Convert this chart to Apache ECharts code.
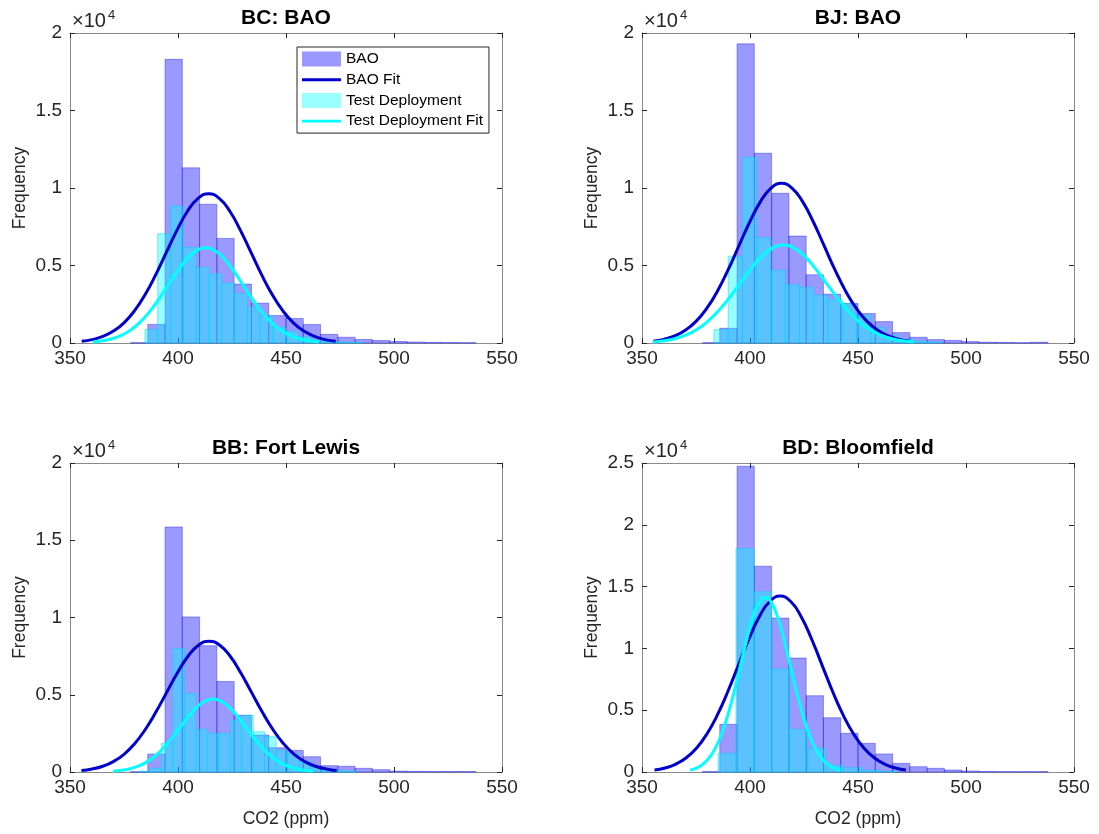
<!DOCTYPE html>
<html><head><meta charset="utf-8">
<script src="https://cdn.jsdelivr.net/npm/echarts@6/dist/echarts.min.js"></script>
<style>html,body{margin:0;padding:0;background:#fff}#c{width:1099px;height:834px}</style>
</head><body><div id="c"></div>
<script>
// ---------- text ----------
const panelTitles = ['BC: BAO', 'BJ: BAO', 'BB: Fort Lewis', 'BD: Bloomfield'];
const seriesNames = ['BAO', 'BAO Fit', 'Test Deployment', 'Test Deployment Fit'];
const xAxisLabel = 'CO2 (ppm)';
const yAxisLabel = 'Frequency';
const yScaleBase = '×10';
const yScaleExp = '4';
// ---------- axes ----------
const xMin = 350, xMax = 550, xStep = 50;
const yMaxValues = [20000, 20000, 20000, 25000];
const yStep = 5000;
const yScaleDivisor = 10000;

// ---------- BAO histograms (bins 8 ppm wide from 378 ppm) ----------
const baoBinStart = 378;
const baoBinWidth = 8;
const bcBaoCounts = [20, 1200, 18300, 11300, 8950, 6750, 3800, 2570, 1770, 1580, 1190, 560, 370, 230, 160, 100, 60, 40, 30, 20];
const bjBaoCounts = [20, 950, 19300, 12240, 9660, 6900, 4400, 3150, 2550, 1900, 1380, 670, 370, 220, 170, 90, 50, 40, 20, 50];
const bbBaoCounts = [20, 1160, 15860, 10040, 8170, 5860, 3670, 2390, 1570, 1400, 990, 410, 370, 240, 150, 60, 40, 30, 30, 30];
const bdBaoCounts = [30, 3860, 24740, 16650, 12450, 9220, 6170, 4390, 3130, 2320, 1460, 700, 430, 300, 160, 80, 40, 30, 30, 30];

// ---------- Test deployment histograms ----------
const bcTestStart = 384.7, bcTestWidth = 5.93;
const bcTestCounts = [870, 7050, 8840, 6170, 4870, 4460, 3860, 3190, 2330, 1750, 1000, 760, 400, 220, 120, 60, 30];
const bjTestStart = 383.3, bjTestWidth = 6.6;
const bjTestCounts = [860, 5600, 11990, 6810, 4700, 3770, 3580, 3080, 2800, 2550, 1790, 1000, 500, 250, 120, 60];
const bbTestStart = 381.8, bbTestWidth = 5.3;
const bbTestCounts = [50, 240, 1860, 8000, 5090, 2760, 2500, 2500, 3360, 3670, 2600, 2280, 1400, 1200, 700, 350, 200, 100, 50];
const bdTestStart = 385.2, bdTestWidth = 8.3;
const bdTestCounts = [1510, 18080, 14580, 8330, 3450, 1910, 550, 350, 150, 50];

// ---------- fitted curves ----------
const bcBaoFitX = [355.4, 360.3, 365.2, 370.1, 375.0, 379.9, 384.8, 389.7, 394.6, 399.5, 404.4, 409.3, 414.2, 419.1, 424.0, 428.9, 433.8, 438.7, 443.6, 448.5, 453.4, 458.3, 463.2, 468.1, 473.0];
const bcBaoFitY = [107, 220, 423, 767, 1303, 2083, 3127, 4409, 5841, 7269, 8498, 9333, 9630, 9333, 8498, 7269, 5841, 4409, 3127, 2083, 1303, 767, 423, 220, 107];
const bcTestFitX = [360.6, 364.95, 369.3, 373.65, 378.0, 382.35, 386.7, 391.05, 395.4, 399.75, 404.1, 408.45, 412.8, 417.15, 421.5, 425.85, 430.2, 434.55, 438.9, 443.25, 447.6, 451.95, 456.3, 460.65, 465.0];
const bcTestFitY = [68, 140, 270, 489, 831, 1328, 1994, 2811, 3724, 4634, 5419, 5951, 6140, 5951, 5419, 4634, 3724, 2811, 1994, 1328, 831, 489, 270, 140, 68];
const bjBaoFitX = [355.2, 360.15, 365.1, 370.05, 375.0, 379.95, 384.9, 389.85, 394.8, 399.75, 404.7, 409.65, 414.6, 419.55, 424.5, 429.45, 434.4, 439.35, 444.3, 449.25, 454.2, 459.15, 464.1, 469.05, 474.0];
const bjBaoFitY = [114, 235, 452, 820, 1394, 2228, 3344, 4715, 6247, 7774, 9090, 9983, 10300, 9983, 9090, 7774, 6247, 4715, 3344, 2228, 1394, 820, 452, 235, 114];
const bjTestFitX = [355.1, 360.12, 365.15, 370.17, 375.2, 380.22, 385.25, 390.27, 395.3, 400.32, 405.35, 410.37, 415.4, 420.42, 425.45, 430.47, 435.5, 440.52, 445.55, 450.57, 455.6, 460.62, 465.65, 470.67, 475.7];
const bjTestFitY = [70, 144, 277, 503, 855, 1367, 2052, 2893, 3833, 4770, 5577, 6125, 6320, 6125, 5577, 4770, 3833, 2893, 2052, 1367, 855, 503, 277, 144, 70];
const bbBaoFitX = [355.3, 360.22, 365.15, 370.07, 375.0, 379.92, 384.85, 389.77, 394.7, 399.62, 404.55, 409.47, 414.4, 419.32, 424.25, 429.17, 434.1, 439.02, 443.95, 448.87, 453.8, 458.72, 463.65, 468.57, 473.5];
const bbBaoFitY = [94, 193, 372, 674, 1146, 1832, 2750, 3878, 5137, 6393, 7475, 8209, 8470, 8209, 7475, 6393, 5137, 3878, 2750, 1832, 1146, 674, 372, 193, 94];
const bbTestFitX = [370.0, 373.85, 377.7, 381.55, 385.4, 389.25, 393.1, 396.95, 400.8, 404.65, 408.5, 412.35, 416.2, 420.05, 423.9, 427.75, 431.6, 435.45, 439.3, 443.15, 447.0, 450.85, 454.7, 458.55, 462.4];
const bbTestFitY = [52, 108, 207, 376, 639, 1021, 1533, 2161, 2863, 3563, 4165, 4575, 4720, 4575, 4165, 3563, 2863, 2161, 1533, 1021, 639, 376, 207, 108, 52];
const bdBaoFitX = [355.8, 360.65, 365.5, 370.35, 375.2, 380.05, 384.9, 389.75, 394.6, 399.45, 404.3, 409.15, 414.0, 418.85, 423.7, 428.55, 433.4, 438.25, 443.1, 447.95, 452.8, 457.65, 462.5, 467.35, 472.2];
const bdBaoFitY = [158, 324, 625, 1133, 1925, 3078, 4621, 6515, 8630, 10741, 12558, 13792, 14230, 13792, 12558, 10741, 8630, 6515, 4621, 3078, 1925, 1133, 625, 324, 158];
const bdTestFitX = [372.3, 375.2, 378.1, 381.0, 383.9, 386.8, 389.7, 392.6, 395.5, 398.4, 401.3, 404.2, 407.1, 410.0, 412.9, 415.8, 418.7, 421.6, 424.5, 427.4, 430.3, 433.2, 436.1, 439.0, 441.9];
const bdTestFitY = [157, 322, 620, 1124, 1910, 3054, 4585, 6464, 8564, 10658, 12461, 13685, 14120, 13685, 12461, 10658, 8564, 6464, 4585, 3054, 1910, 1124, 620, 322, 157];

// ---------- assemble ----------
const panels = [
  {bao: bcBaoCounts, tS: bcTestStart, tW: bcTestWidth, tC: bcTestCounts, bfx: bcBaoFitX, bfy: bcBaoFitY, tfx: bcTestFitX, tfy: bcTestFitY},
  {bao: bjBaoCounts, tS: bjTestStart, tW: bjTestWidth, tC: bjTestCounts, bfx: bjBaoFitX, bfy: bjBaoFitY, tfx: bjTestFitX, tfy: bjTestFitY},
  {bao: bbBaoCounts, tS: bbTestStart, tW: bbTestWidth, tC: bbTestCounts, bfx: bbBaoFitX, bfy: bbBaoFitY, tfx: bbTestFitX, tfy: bbTestFitY},
  {bao: bdBaoCounts, tS: bdTestStart, tW: bdTestWidth, tC: bdTestCounts, bfx: bdBaoFitX, bfy: bdBaoFitY, tfx: bdTestFitX, tfy: bdTestFitY}
];

const FONT = '"Liberation Sans", Arial, Helvetica, sans-serif';
const TXT = '#262626';
const AXC = '#8a8a8a';
const BAO_FILL = 'rgba(0,0,255,0.4)';
const BAO_EDGE = 'rgba(0,0,230,0.35)';
const TEST_FILL = 'rgba(0,255,255,0.4)';
const TEST_EDGE = 'rgba(0,210,255,0.5)';
const BAO_LINE = '#0000cc';
const TEST_LINE = '#00ffff';
const LINE_ICON = 'path://M0,0H40V3H0Z';

const gridBoxes = [
  {left: 70, top: 33, width: 432, height: 310},
  {left: 642, top: 33, width: 432, height: 310},
  {left: 70, top: 463, width: 432, height: 309},
  {left: 642, top: 463, width: 432, height: 309}
];

function bins(start, width, counts) {
  return counts.map((c, i) => [start + i * width, start + (i + 1) * width, c]);
}
function pairs(xs, ys) { return xs.map((x, i) => [x, ys[i]]); }
function histRender(fill, stroke) {
  return function (params, api) {
    const a = api.coord([api.value(0), api.value(2)]);
    const b = api.coord([api.value(1), 0]);
    return {type: 'rect', shape: {x: a[0], y: a[1], width: b[0] - a[0], height: b[1] - a[1]},
      style: {fill: fill, stroke: stroke, lineWidth: 1}};
  };
}

const grid = [], xAxis = [], yAxis = [], series = [], graphic = [];
panels.forEach((p, i) => {
  const g = gridBoxes[i];
  grid.push(Object.assign({containLabel: false}, g));
  const bottomRow = i >= 2;
  const tickStyle = {show: true, inside: true, length: 5, lineStyle: {color: TXT, width: 1}};
  xAxis.push({type: 'value', gridIndex: i, min: xMin, max: xMax, interval: xStep, position: 'bottom',
    axisLine: {show: true, onZero: false, lineStyle: {color: AXC, width: 1}},
    axisTick: tickStyle, splitLine: {show: false},
    axisLabel: {show: true, color: TXT, fontSize: 19, fontFamily: FONT, margin: 6, showMinLabel: true, showMaxLabel: true},
    name: bottomRow ? xAxisLabel : '', nameLocation: 'middle', nameGap: 38,
    nameTextStyle: {color: TXT, fontSize: 17.5, fontFamily: FONT}});
  xAxis.push({type: 'value', gridIndex: i, min: xMin, max: xMax, interval: xStep, position: 'top',
    axisLine: {show: true, onZero: false, lineStyle: {color: AXC, width: 1}},
    axisTick: tickStyle, splitLine: {show: false}, axisLabel: {show: false}});
  yAxis.push({type: 'value', gridIndex: i, min: 0, max: yMaxValues[i], interval: yStep, position: 'left',
    axisLine: {show: true, onZero: false, lineStyle: {color: AXC, width: 1}},
    axisTick: tickStyle, splitLine: {show: false},
    axisLabel: {show: true, color: TXT, fontSize: 19, fontFamily: FONT, margin: 8,
      formatter: v => String(v / yScaleDivisor)},
    name: yAxisLabel, nameLocation: 'middle', nameGap: 41,
    nameTextStyle: {color: TXT, fontSize: 17.5, fontFamily: FONT}});
  yAxis.push({type: 'value', gridIndex: i, min: 0, max: yMaxValues[i], interval: yStep, position: 'right',
    axisLine: {show: true, onZero: false, lineStyle: {color: AXC, width: 1}},
    axisTick: tickStyle, splitLine: {show: false}, axisLabel: {show: false}});

  const xi = 2 * i, yi = 2 * i;
  series.push({type: 'custom', name: seriesNames[0], xAxisIndex: xi, yAxisIndex: yi,
    renderItem: histRender(BAO_FILL, BAO_EDGE), encode: {x: [0, 1], y: 2},
    itemStyle: {color: BAO_FILL}, data: bins(baoBinStart, baoBinWidth, p.bao), silent: true});
  series.push({type: 'line', name: seriesNames[1], xAxisIndex: xi, yAxisIndex: yi, smooth: true,
    symbol: 'none', showSymbol: false, lineStyle: {color: BAO_LINE, width: 3},
    itemStyle: {color: BAO_LINE}, data: pairs(p.bfx, p.bfy), silent: true});
  series.push({type: 'custom', name: seriesNames[2], xAxisIndex: xi, yAxisIndex: yi,
    renderItem: histRender(TEST_FILL, TEST_EDGE), encode: {x: [0, 1], y: 2},
    itemStyle: {color: TEST_FILL}, data: bins(p.tS, p.tW, p.tC), silent: true});
  series.push({type: 'line', name: seriesNames[3], xAxisIndex: xi, yAxisIndex: yi, smooth: true,
    symbol: 'none', showSymbol: false, lineStyle: {color: TEST_LINE, width: 3},
    itemStyle: {color: TEST_LINE}, data: pairs(p.tfx, p.tfy), silent: true});

  // title
  graphic.push({type: 'text', x: g.left + g.width / 2, y: g.top - 15,
    style: {text: panelTitles[i], font: 'bold 21px ' + FONT, fill: '#000',
      align: 'center', verticalAlign: 'middle', textAlign: 'center', textVerticalAlign: 'middle'}});
  // exponent label
  graphic.push({type: 'text', x: g.left + 2, y: g.top - 12,
    style: {text: yScaleBase, font: '20px ' + FONT, fill: TXT,
      align: 'left', verticalAlign: 'middle', textAlign: 'left', textVerticalAlign: 'middle'}});
  graphic.push({type: 'text', x: g.left + 38, y: g.top - 18,
    style: {text: yScaleExp, font: '13px ' + FONT, fill: TXT,
      align: 'left', verticalAlign: 'middle', textAlign: 'left', textVerticalAlign: 'middle'}});
});

const option = {
  animation: false,
  backgroundColor: '#fff',
  grid, xAxis, yAxis, series, graphic,
  legend: {
    show: true, orient: 'vertical', left: 297, top: 47,
    padding: [4, 6, 4, 5], itemGap: 4.7, itemWidth: 39, itemHeight: 15,
    backgroundColor: '#fff', borderColor: '#262626', borderWidth: 1,
    textStyle: {color: '#000', fontSize: 15.5, fontFamily: FONT, lineHeight: 15},
    selectedMode: false,
    data: [
      {name: seriesNames[0], icon: 'rect', itemStyle: {borderWidth: 0}},
      {name: seriesNames[1], icon: LINE_ICON, itemStyle: {color: BAO_LINE, borderWidth: 0}},
      {name: seriesNames[2], icon: 'rect', itemStyle: {borderWidth: 0}},
      {name: seriesNames[3], icon: LINE_ICON, itemStyle: {color: TEST_LINE, borderWidth: 0}}
    ]
  }
};

const chart = echarts.init(document.getElementById('c'), null, {renderer: 'canvas'});
chart.setOption(option);
</script>
</body></html>
